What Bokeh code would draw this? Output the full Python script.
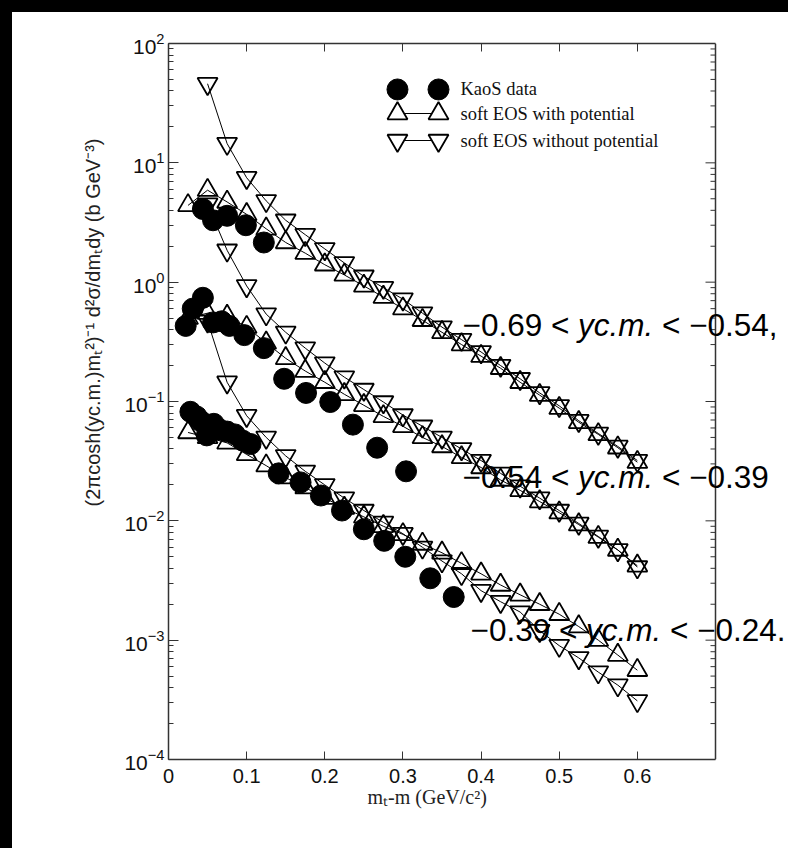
import math
from bokeh.plotting import figure
from bokeh.models import (Range1d, LinearScale, LinearAxis, FixedTicker, Label, Title, Span, Spacer)
from bokeh.layouts import column, row
from bokeh.core.properties import value
from bokeh.embed import file_html
from bokeh.resources import INLINE

# ---------------- data ----------------
x_with = [0.025, 0.05, 0.075, 0.1, 0.125, 0.15, 0.175, 0.2, 0.225, 0.25, 0.275, 0.3,
          0.325, 0.35, 0.375, 0.4, 0.425, 0.45, 0.475, 0.5, 0.525, 0.55, 0.575, 0.6]
x_without = [0.05, 0.075, 0.1, 0.125, 0.15, 0.175, 0.2, 0.225, 0.25, 0.275, 0.3,
             0.325, 0.35, 0.375, 0.4, 0.425, 0.45, 0.475, 0.5, 0.525, 0.55, 0.575, 0.6]

top_with = [4.4, 5.9, 4.7, 3.7, 2.8, 2.15, 1.75, 1.4, 1.15, 0.93, 0.75, 0.6,
            0.48, 0.38, 0.30, 0.24, 0.19, 0.145, 0.113, 0.088, 0.067, 0.053, 0.041, 0.031]
top_without = [46, 14.5, 7.5, 4.8, 3.3, 2.5, 1.9, 1.45, 1.12, 0.9, 0.72,
               0.55, 0.42, 0.33, 0.26, 0.20, 0.155, 0.118, 0.092, 0.069, 0.054, 0.042, 0.032]
top_data_x = [0.044, 0.057, 0.075, 0.099, 0.122]
top_data_y = [4.1, 3.3, 3.6, 3.0, 2.15]

mid_with = [0.5, 0.55, 0.52, 0.42, 0.31, 0.23, 0.18, 0.145, 0.115, 0.093, 0.075, 0.062,
            0.050, 0.042, 0.034, 0.028, 0.022, 0.018, 0.0145, 0.0117, 0.0093, 0.0073, 0.0057, 0.0042]
mid_without = [4.5, 1.85, 0.93, 0.54, 0.38, 0.28, 0.21, 0.16, 0.126, 0.099, 0.077,
               0.062, 0.050, 0.040, 0.032, 0.025, 0.0195, 0.0155, 0.0122, 0.0095, 0.0074, 0.0057, 0.0041]
mid_data_x = [0.022, 0.031, 0.044, 0.057, 0.068, 0.078, 0.097, 0.122, 0.148, 0.176,
              0.207, 0.236, 0.267, 0.304]
mid_data_y = [0.43, 0.60, 0.74, 0.46, 0.47, 0.43, 0.36, 0.28, 0.155, 0.118,
              0.099, 0.064, 0.041, 0.026]

bot_with = [0.055, 0.05, 0.045, 0.036, 0.029, 0.023, 0.019, 0.0155, 0.0128, 0.0108, 0.0090, 0.0077,
            0.0064, 0.0054, 0.0044, 0.0036, 0.0029, 0.0024, 0.0020, 0.00165, 0.0013, 0.00100, 0.00075, 0.00056]
bot_without = [0.47, 0.145, 0.076, 0.050, 0.035, 0.026, 0.020, 0.0155, 0.0122, 0.0097, 0.0078,
               0.0060, 0.0046, 0.0036, 0.0026, 0.0021, 0.00172, 0.00120, 0.00090, 0.00071, 0.00054, 0.00042, 0.00031]
bot_data_x = [0.028, 0.036, 0.042, 0.049, 0.058, 0.066, 0.075, 0.085, 0.095, 0.105,
              0.141, 0.169, 0.195, 0.222, 0.250, 0.276, 0.303, 0.335, 0.365]
bot_data_y = [0.082, 0.075, 0.068, 0.052, 0.065, 0.058, 0.056, 0.053, 0.047, 0.044,
              0.025, 0.021, 0.0163, 0.0122, 0.0085, 0.0068, 0.0050, 0.0033, 0.0023]

x_tick_values = [0, 0.1, 0.2, 0.3, 0.4, 0.5, 0.6]
y_tick_values = [1e-4, 1e-3, 1e-2, 1e-1, 1e0, 1e1, 1e2]
y_minor_values = [m * t for t in y_tick_values[:-1] for m in range(2, 10)]

legend_labels = ["KaoS data", "soft EOS with potential", "soft EOS without potential"]
band_labels = [("\u22120.69 <", "yc.m.", "< \u22120.54,"),
               ("\u22120.54 <", "yc.m.", "< \u22120.39"),
               ("\u22120.39 <", "yc.m.", "< \u22120.24.")]

# ---------------- layout constants ----------------
X_MAX = 0.7            # right edge of the drawn box
BOX_W = 547            # drawn box width in px
EXT_W = 620            # plotting area runs on to the page edge so the bin texts are not cut
EDGE = 12              # black scan edge at top and left
AX = "#333333"

p = figure(width=788 - EDGE, height=848 - EDGE, x_range=Range1d(0, X_MAX * EXT_W / BOX_W),
           y_range=Range1d(1e-4, 1e2), y_axis_type="log",
           output_backend="svg", toolbar_location=None,
           min_border_left=156, min_border_top=31, min_border_right=0, min_border_bottom=89,
           background_fill_color="white", border_fill_color="white")
p.grid.visible = False
p.outline_line_color = None

# frame-fraction coordinates (0..1 across the drawn box)
p.extra_x_ranges = {"frame": Range1d(0, EXT_W / BOX_W)}
p.extra_y_ranges = {"frame": Range1d(0, 1)}
p.extra_x_scales = {"frame": LinearScale()}
p.extra_y_scales = {"frame": LinearScale()}

yticker = FixedTicker(ticks=y_tick_values, minor_ticks=y_minor_values)
xticker = FixedTicker(ticks=x_tick_values)

ly = p.yaxis[0]
ly.ticker = yticker
lx = p.xaxis[0]
lx.ticker = xticker
lx.bounds = (0, X_MAX)
for ax in (ly, lx):
    ax.axis_line_color = AX
    ax.axis_line_width = 1.5
    ax.major_tick_line_color = AX
    ax.minor_tick_line_color = AX
    ax.major_tick_out = 0
    ax.minor_tick_out = 0
    ax.major_label_text_font = "Liberation Sans"
    ax.major_label_text_color = "#111111"
ly.major_tick_in = 10
ly.minor_tick_in = 5
ly.major_label_text_font_size = "21px"
ly.major_label_standoff = 4
lx.major_tick_in = 8
lx.minor_tick_line_color = None
lx.major_label_text_font_size = "20px"
lx.major_label_standoff = 9

tx = LinearAxis(ticker=xticker, bounds=(0, X_MAX), major_tick_in=8, major_tick_out=0,
                minor_tick_line_color=None, axis_line_color=AX, axis_line_width=1.5,
                major_tick_line_color=AX, major_label_text_color=None)
p.add_layout(tx, "above")

# right-hand edge of the box with inward log ticks
p.add_layout(Span(location=X_MAX, dimension="height", line_color=AX, line_width=1.5))
p.segment(x0=[1 - 10 / BOX_W] * len(y_tick_values), y0=y_tick_values,
          x1=[1.0] * len(y_tick_values), y1=y_tick_values,
          line_color=AX, line_width=1, x_range_name="frame")
p.segment(x0=[1 - 5 / BOX_W] * len(y_minor_values), y0=y_minor_values,
          x1=[1.0] * len(y_minor_values), y1=y_minor_values,
          line_color=AX, line_width=1, x_range_name="frame")

# axis titles (placed as in the original, not centred on the widened area)
p.add_layout(Title(text="(2\u03c0cosh(yc.m.)m\u209c\u00b2)\u207b\u00b9 d\u00b2\u03c3/dm\u209cdy (b GeV\u207b\u00b3)",
                   align="right", offset=95, text_font="Liberation Sans", text_font_size="20px",
                   text_font_style="normal", text_color="#222222", standoff=36), "left")
p.add_layout(Title(text="m\u209c-m (GeV/c\u00b2)", align="left", offset=199,
                   text_font="Liberation Serif", text_font_size="20px", text_font_style="normal",
                   text_color="#222222", vertical_align="top", standoff=0), "below")
# blank strip that keeps the white page running down to the bottom edge
p.add_layout(Title(text="\u00a0", text_font_size="31px", standoff=0), "below")

# ---------------- series ----------------
TRI = 20
for yw, yo in ((top_with, top_without), (mid_with, mid_without), (bot_with, bot_without)):
    p.line(x_with, yw, line_color="black", line_width=1)
    p.line(x_without, yo, line_color="black", line_width=1)
    p.scatter(x_with, yw, marker="triangle", size=TRI, fill_color=None,
              line_color="black", line_width=1.8)
    p.scatter(x_without, yo, marker="inverted_triangle", size=TRI, fill_color=None,
              line_color="black", line_width=1.8)
for dx, dy in ((top_data_x, top_data_y), (mid_data_x, mid_data_y), (bot_data_x, bot_data_y)):
    p.scatter(dx, dy, marker="circle", size=21, fill_color="black", line_color="black")

# ---------------- legend (frame-fraction coordinates) ----------------
key_x = [0.4186, 0.4936]
row_y = [0.9358, 0.9022, 0.8645]
text_x = 0.5338
p.scatter(key_x, [row_y[0]] * 2, marker="circle", size=21, fill_color="black", line_color="black",
          x_range_name="frame", y_range_name="frame")
p.line(key_x, [row_y[1]] * 2, line_color="black", line_width=1.2,
       x_range_name="frame", y_range_name="frame")
p.scatter(key_x, [row_y[1]] * 2, marker="triangle", size=TRI, fill_color="white", line_color="black",
          line_width=1.8, x_range_name="frame", y_range_name="frame")
p.line(key_x, [row_y[2]] * 2, line_color="black", line_width=1.2,
       x_range_name="frame", y_range_name="frame")
p.scatter(key_x, [row_y[2]] * 2, marker="inverted_triangle", size=TRI, fill_color="white",
          line_color="black", line_width=1.8, x_range_name="frame", y_range_name="frame")
p.text([text_x] * 3, row_y, text=legend_labels, text_baseline="middle", text_align="left",
       text_font=value("Liberation Serif"), text_font_size="18.5px", text_color="#111111",
       x_range_name="frame", y_range_name="frame")

# ---------------- rapidity-bin annotations ----------------
band_pos = [(0.5375, 0.6075), (0.5375, 0.3939), (0.5521, 0.1802)]
for (bx, by), (a, b, c) in zip(band_pos, band_labels):
    for txt, off, style in ((a, 0, "normal"), (b, 115.5, "italic"), (c, 199.5, "normal")):
        p.add_layout(Label(x=bx, y=by, x_offset=off, text=txt, x_range_name="frame",
                           y_range_name="frame", text_font="Liberation Sans",
                           text_font_size="31.5px", text_font_style=style,
                           text_baseline="alphabetic", text_align="left", text_color="black"))

# page: black scan edges on top and left, white behind the chart
black = {"background-color": "black"}
top_bar = Spacer(width=788, height=EDGE, styles=black)
left_bar = Spacer(width=EDGE, height=848 - EDGE, styles=black)
body = row(left_bar, p, spacing=0, styles={"background-color": "white"})
root = column(top_bar, body, spacing=0, styles={"background-color": "white"})

open("out.html", "w").write(file_html(root, INLINE))
